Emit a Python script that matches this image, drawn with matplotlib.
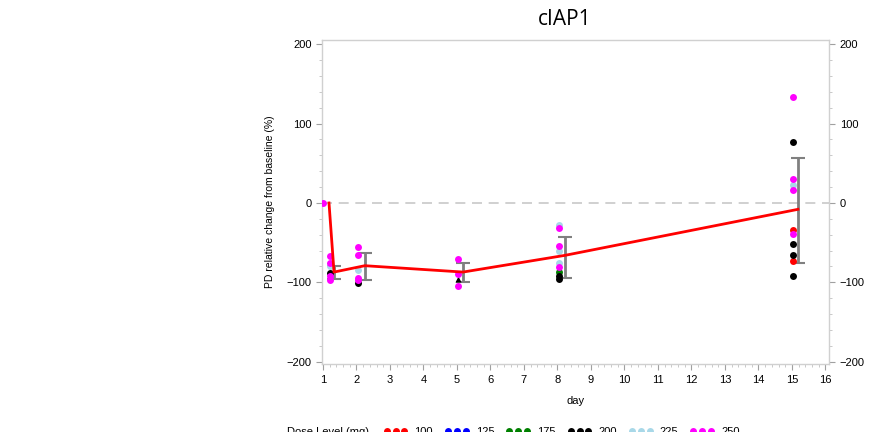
import matplotlib
matplotlib.use("Agg")
import matplotlib.pyplot as plt
from matplotlib.lines import Line2D
from matplotlib.ticker import MultipleLocator
import numpy as np

# dose level colours / labels
dose_labels = ["100", "125", "175", "200", "225", "250"]
dose_colors = ["#ff0000", "#0000ff", "#008000", "#000000", "#a8d8e8", "#ff00ff"]

# individual points per dose level (x = day, y = % change)
x_100 = [15.03, 15.03]
y_100 = [-34, -73]
x_175 = [8.04]
y_175 = [-87]
x_200 = [1.2, 2.05, 8.04, 8.04, 15.03, 15.03, 15.03, 15.03]
y_200 = [-88, -101, -92, -96, 77, -52, -66, -92]
x_200_tri = [5.03]
y_200_tri = [-96]
x_225 = [1.2, 2.05, 8.04, 8.04, 8.04, 15.03]
y_225 = [-80, -85, -28, -61, -76, 23]
x_250 = [1.0, 1.2, 1.2, 1.2, 1.2, 2.05, 2.05, 2.05, 2.05, 5.03, 5.03, 5.03,
         8.04, 8.04, 8.04, 15.03, 15.03, 15.03, 15.03]
y_250 = [0, -67, -76, -92, -97, -56, -65, -95, -97, -71, -90, -104,
         -32, -54, -81, 134, 30, 16, -39]

# mean line
mean_x = [1.18, 1.33, 2.25, 5.18, 8.22, 15.18]
mean_y = [0, -87, -79, -87, -66, -8]

# error bars (x, top, bottom)
err_x = [1.33, 2.25, 5.18, 8.22, 15.18]
err_top = [-80, -63, -76, -43, 57]
err_bot = [-96, -97, -99, -94, -75]

plt.rcParams['font.family'] = ['Liberation Sans', 'DejaVu Sans']

fig = plt.figure(figsize=(8.69, 4.32), dpi=100)
ax = fig.add_axes([0.3705, 0.157, 0.584, 0.75])

ax.axhline(0, color="#c8c8c8", lw=1.2, ls=(0, (6, 4)), zorder=1)

em = np.array(err_top)
eb = np.array(err_bot)
ec = (em + eb) / 2
ax.errorbar(err_x, ec, yerr=[ec - eb, em - ec], fmt="none", ecolor="#808080",
            elinewidth=2, capsize=5, capthick=1.5, zorder=2)

ms = 5
ax.plot(x_100, y_100, "o", color=dose_colors[0], ms=ms, mec="none", zorder=3)
ax.plot(x_175, y_175, "o", color=dose_colors[2], ms=ms, mec="none", zorder=3)
ax.plot(x_200, y_200, "o", color=dose_colors[3], ms=ms, mec="none", zorder=3)
ax.plot(x_200_tri, y_200_tri, "^", color=dose_colors[3], ms=ms, mec="none", zorder=3)
ax.plot(x_225, y_225, "o", color=dose_colors[4], ms=ms, mec="none", zorder=3)
ax.plot(x_250, y_250, "o", color=dose_colors[5], ms=ms, mec="none", zorder=3)

ax.plot(mean_x, mean_y, color="#ff0000", lw=2, zorder=4)

ax.set_xlim(0.97, 16.12)
ax.set_ylim(-203, 205)
ax.set_xticks(range(1, 17))
ax.set_yticks([-200, -100, 0, 100, 200])
ax.xaxis.set_minor_locator(MultipleLocator(0.2))
ax.yaxis.set_minor_locator(MultipleLocator(20))
ax.tick_params(axis="both", which="major", labelsize=8, color="#a0a0a0",
               length=4, width=0.8, right=True, labelright=True)
ax.tick_params(axis="both", which="minor", color="#c0c0c0", length=2,
               width=0.6, right=True)
for s in ax.spines.values():
    s.set_color("#d0d0d0")
    s.set_linewidth(1)

ax.set_xlabel("day", fontsize=8, labelpad=8)
ax.set_ylabel("PD relative change from baseline (%)", fontsize=7.5, labelpad=8)

fig.text(0.65, 0.955, "cIAP1", fontsize=15, family=["Open Sans", "DejaVu Sans"],
         ha="center", va="center")

handles = [Line2D([0], [0], marker="o", color=c, ls="none", ms=5, mec="none")
           for c in dose_colors]
fig.text(0.33, 0.0, "Dose Level (mg)", fontsize=8, va="center")
fig.legend(handles, dose_labels, loc="center left", bbox_to_anchor=(0.436, 0.0),
           ncol=6, frameon=False, numpoints=3, fontsize=8, handlelength=2.2,
           handletextpad=0.6, columnspacing=1.05, borderaxespad=0)

fig.savefig("out.png", dpi=100)
